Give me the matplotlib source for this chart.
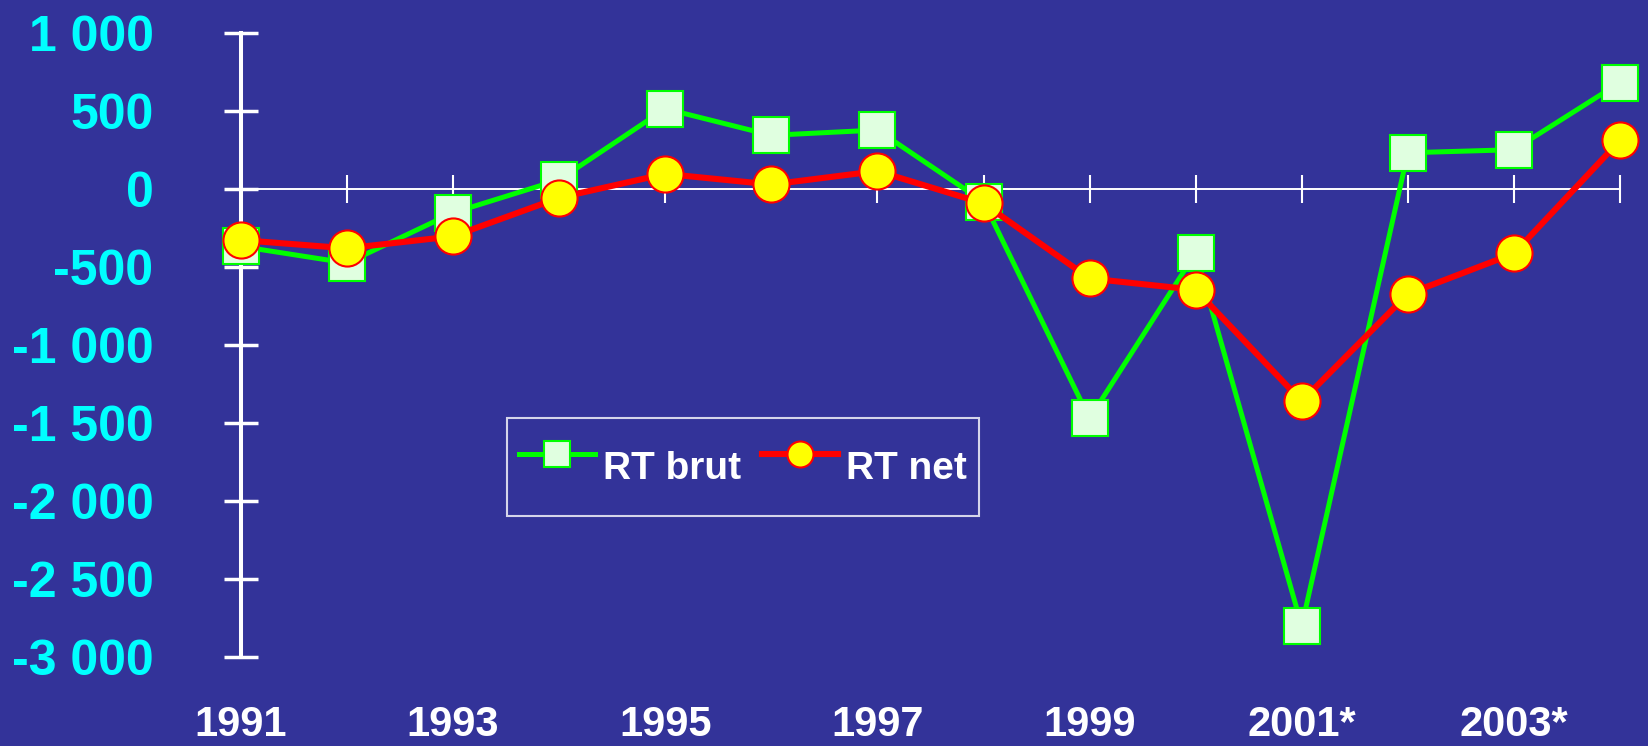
import matplotlib
matplotlib.use("Agg")
import matplotlib.pyplot as plt
import matplotlib.transforms as mtransforms

plt.rcParams['font.family'] = ['Liberation Sans', 'DejaVu Sans']
plt.rcParams['font.weight'] = 'bold'

# data
years = [1991, 1992, 1993, 1994, 1995, 1996, 1997, 1998, 1999, 2000, 2001, 2002, 2003, 2004]
rt_brut = [-370, -476, -154, 57, 512, 342, 376, -83, -1472, -412, -2801, 230, 250, 680]
rt_net = [-329, -382, -305, -58, 95, 27, 113, -94, -575, -648, -1361, -675, -415, 309]

label_years = [1991, 1993, 1995, 1997, 1999, 2001, 2003]
x_labels = ['1991', '1993', '1995', '1997', '1999', '2001*', '2003*']
y_ticks = [1000, 500, 0, -500, -1000, -1500, -2000, -2500, -3000]
y_labels = ['1 000', '500', '0', '-500', '-1 000', '-1 500', '-2 000', '-2 500', '-3 000']

bg = '#333399'

fig = plt.figure(figsize=(16.48, 7.46), dpi=100, facecolor=bg)
ax = fig.add_axes([0.1462, 0.1193, 0.8368, 0.8370])
ax.set_facecolor(bg)

ax.plot(years, rt_brut, color='#00FF00', lw=3.6, marker='s', ms=26,
        mfc='#E0FFE0', mec='#00FF00', mew=1.5, label='RT brut',
        clip_on=False, zorder=3)
ax.plot(years, rt_net, color='#FF0000', lw=4.4, marker='o', ms=26,
        mfc='#FFFF00', mec='#FF0000', mew=1.5, label='RT net',
        clip_on=False, zorder=4)

ax.set_xlim(years[0], years[-1])
ax.set_ylim(-3000, 1000)

# spines: y axis on the left, x axis running through zero
for s in ['top', 'right']:
    ax.spines[s].set_visible(False)
ax.spines['left'].set_color('white')
ax.spines['left'].set_linewidth(2.9)
ax.spines['bottom'].set_position(('data', 0))
ax.spines['bottom'].set_color('white')
ax.spines['bottom'].set_linewidth(1.4)

ax.set_yticks(y_ticks)
ax.set_yticklabels(y_labels)
ax.tick_params(axis='y', direction='inout', length=24, width=2.5, color='white',
               labelcolor='#00FFFF', labelsize=36, pad=51)

ax.set_xticks(years)
ax.set_xticklabels([''] * len(years))
ax.tick_params(axis='x', direction='inout', length=20, width=1.5, color='white')

# year labels along the bottom
trans = mtransforms.blended_transform_factory(ax.transData, ax.transAxes)
for yr, lab in zip(label_years, x_labels):
    ax.text(yr, -0.1265, lab, transform=trans, ha='center', va='baseline',
            color='white', fontsize=30, fontweight='bold')

leg = ax.legend(loc='upper left', bbox_to_anchor=(0.193, 0.383), ncol=2,
                borderaxespad=0, fontsize=28, markerscale=0.72,
                handlelength=1.96, handletextpad=0.2, columnspacing=0.55,
                handleheight=2.6, borderpad=0.3, frameon=True, fancybox=False)
leg.get_frame().set_facecolor(bg)
leg.get_frame().set_edgecolor('white')
leg.get_frame().set_linewidth(1.5)
for t in leg.get_texts():
    t.set_color('white')

fig.savefig('out.png', dpi=100, facecolor=bg)
